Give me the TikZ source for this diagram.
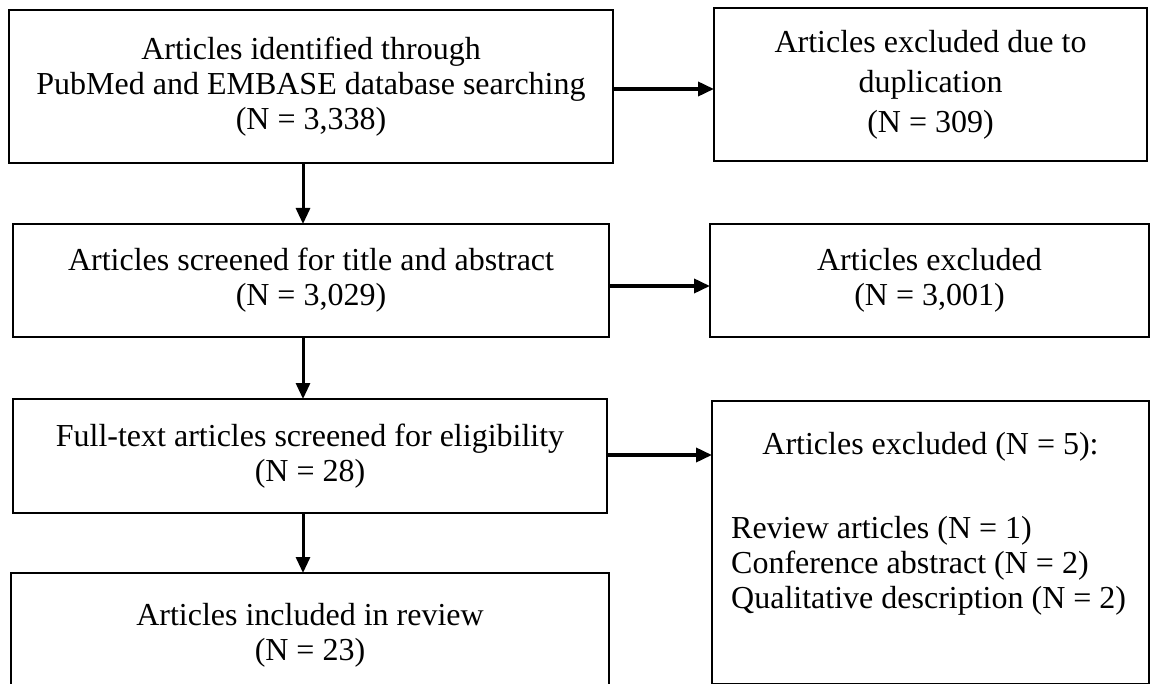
\documentclass[tikz,border=0pt]{standalone}
\usepackage{fontspec}
\setmainfont{Liberation Serif}
\usetikzlibrary{arrows.meta}
\begin{document}
\begin{tikzpicture}[x=1pt,y=1pt,
  box/.style={draw=black, line width=2.4pt, inner sep=0pt, outer sep=0pt, anchor=north west, align=center,
    font=\fontsize{32}{35}\selectfont},
  txt/.style={inner sep=0pt, font=\fontsize{32}{35}\selectfont},
  arr/.style={line width=3.6pt, -{Triangle[length=16pt,width=14pt]}},
  varr/.style={line width=3pt, -{Triangle[length=16pt,width=14pt]}}]
\useasboundingbox (0,0) rectangle (1150,-684);
\fill[white] (0,0) rectangle (1150,-684);
\node[box, minimum width=604pt, minimum height=153pt] (b1) at (9,-10)
  {Articles identified through\\PubMed and EMBASE database searching\\(N = 3,338)};
\node[box, minimum width=433pt, minimum height=153pt, font=\fontsize{32}{40}\selectfont] (b2) at (714,-8)
  {Articles excluded due to\\duplication\\(N = 309)};
\node[box, minimum width=596pt, minimum height=113pt] (b3) at (13,-224)
  {Articles screened for title and abstract\\(N = 3,029)};
\node[box, minimum width=439pt, minimum height=113pt] (b4) at (710,-224)
  {Articles excluded\\(N = 3,001)};
\node[box, minimum width=594pt, minimum height=114pt] (b5) at (13,-399)
  {Full-text articles screened for eligibility\\(N = 28)};
\node[box, minimum width=437pt, minimum height=283pt] (b6) at (712,-401) {};
\node[box, minimum width=598pt, minimum height=124pt] (b7) at (11,-573)
  {Articles included in review\\(N = 23)};
\node[txt] (t6a) at (930.5,-447) {Articles excluded (N = 5):};
\node[txt, anchor=west, align=left] (t6b) at (731,-566)
  {Review articles (N = 1)\\Conference abstract (N = 2)\\Qualitative description (N = 2)};
\draw[arr] (b1.east |- 0,-89) -- (b2.west |- 0,-89);
\draw[arr] (b3.east |- 0,-286) -- (b4.west |- 0,-286);
\draw[arr] (b5.east |- 0,-455) -- (b6.west |- 0,-455);
\draw[varr] (b1.south -| 303,0) -- (b3.north -| 303,0);
\draw[varr] (b3.south -| 303,0) -- (b5.north -| 303,0);
\draw[varr] (b5.south -| 303,0) -- (b7.north -| 303,0);
\end{tikzpicture}
\end{document}
